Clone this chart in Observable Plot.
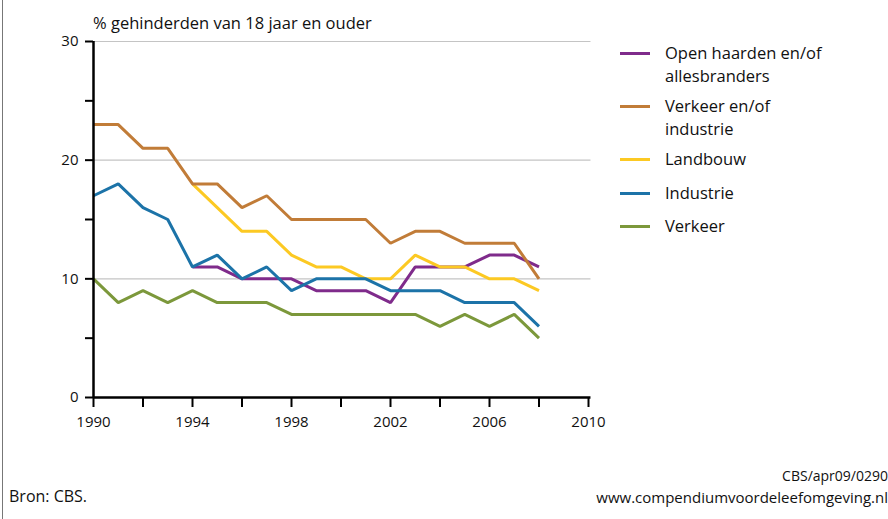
<!DOCTYPE html>
<html>
<head>
<meta charset="utf-8">
<script src="https://cdn.jsdelivr.net/npm/d3@7"></script>
<script src="https://cdn.jsdelivr.net/npm/@observablehq/plot@0.6"></script>
<style>
  body { margin: 0; background: #fff; }
  #wrap { position: relative; width: 888px; height: 519px; font-family: "Open Sans", sans-serif; color: #111; overflow: hidden; }
  #wrap svg { position: absolute; left: 0; top: 0; }
  .abs { position: absolute; white-space: nowrap; }
  #border { position: absolute; left: 2px; top: 0; width: 0; height: 519px; border-left: 1.5px solid #777; }
  #title { left: 93px; top: 11px; font-size: 16.5px; }
  #legend { left: 620px; top: 40px; }
  .lg { position: absolute; left: 0; }
  .sw { position: absolute; left: 0; width: 30px; height: 3px; }
  .lt { position: absolute; left: 45px; font-size: 16.5px; line-height: 23px; white-space: nowrap; }
  .foot { line-height: 17px; }
</style>
</head>
<body>
<div id="wrap">
  <div id="border"></div>
  <div id="title" class="abs">% gehinderden van 18 jaar en ouder</div>
  <div id="legend" class="abs"></div>
  <div class="abs foot" style="left:9px; top:488px; font-size:16px;">Bron: CBS.</div>
  <div class="abs foot" style="right:0px; top:467px; text-align:right; font-size:14px;">CBS/apr09/0290</div>
  <div class="abs foot" style="right:0px; top:489px; text-align:right; font-size:15px;">www.compendiumvoordeleefomgeving.nl</div>
</div>
<script>
const years = [1990,1991,1992,1993,1994,1995,1996,1997,1998,1999,2000,2001,2002,2003,2004,2005,2006,2007,2008];
const openHaarden   = [null,null,null,null,11,11,10,10,10,9,9,9,8,11,11,11,12,12,11];
const verkeerIndust = [23,23,21,21,18,18,16,17,15,15,15,15,13,14,14,13,13,13,10];
const landbouw      = [null,null,null,null,18,16,14,14,12,11,11,10,10,12,11,11,10,10,9];
const industrie     = [17,18,16,15,11,12,10,11,9,10,10,10,9,9,9,8,8,8,6];
const verkeer       = [10,8,9,8,9,8,8,8,7,7,7,7,7,7,6,7,6,7,5];

const seriesNames = ["Open haarden en/of allesbranders","Verkeer en/of industrie","Landbouw","Industrie","Verkeer"];
const legendLines = [["Open haarden en/of","allesbranders"],["Verkeer en/of","industrie"],["Landbouw"],["Industrie"],["Verkeer"]];
const seriesColors = ["#7f2b8b","#c17c38","#fcc923","#1c73a8","#7c983b"];
const seriesValues = [openHaarden, verkeerIndust, landbouw, industrie, verkeer];
const drawOrder = [0,2,1,3,4];

const yTicks = [0,5,10,15,20,25,30];
const yLabels = [0,10,20,30];
const xTicks = [1990,1992,1994,1996,1998,2000,2002,2004,2006,2008,2010];
const xLabels = [1990,1994,1998,2002,2006,2010];

const data = drawOrder.flatMap(i => years.map((yr, j) => ({year: yr, value: seriesValues[i][j], series: seriesNames[i]})).filter(d => d.value != null));

const plot = Plot.plot({
  width: 888,
  height: 519,
  marginLeft: 93,
  marginRight: 300,
  marginTop: 41,
  marginBottom: 122,
  style: {fontFamily: "Open Sans, sans-serif", fontSize: "15px", color: "#111", background: "transparent"},
  x: {domain: [1990, 2010], label: null},
  y: {domain: [0, 30], label: null},
  color: {domain: seriesNames, range: seriesColors},
  marks: [
    Plot.ruleY([10, 20, 30], {stroke: "#c4c4c4", strokeWidth: 1.2, x1: 1990, x2: 2010.1}),
    Plot.axisY({ticks: yTicks, tickSize: 8, tickPadding: 7, strokeWidth: 2, stroke: "#000", tickFormat: d => yLabels.includes(d) ? String(d) : ""}),
    Plot.axisX({ticks: xTicks, tickSize: 10, tickPadding: 9, strokeWidth: 2, stroke: "#000", tickFormat: d => xLabels.includes(d) ? String(d) : ""}),
    Plot.line(data, {x: "year", y: "value", z: "series", stroke: "series", strokeWidth: 3, strokeLinejoin: "miter", strokeLinecap: "butt"}),
    Plot.ruleX([1990], {y1: 0, y2: 30, stroke: "#000", strokeWidth: 2.5}),
    Plot.ruleY([0], {x1: 1990, x2: 2010.1, stroke: "#000", strokeWidth: 2.5})
  ]
});
const wrap = document.getElementById("wrap");
wrap.insertBefore(plot, wrap.firstChild);

// legend
const legendY = [13, 66, 119, 153, 186];
const legend = document.getElementById("legend");
seriesNames.forEach((name, i) => {
  const row = document.createElement("div");
  row.className = "lg";
  row.style.top = legendY[i] + "px";
  const sw = document.createElement("div");
  sw.className = "sw";
  sw.style.background = seriesColors[i];
  sw.style.top = "-1.5px";
  const lt = document.createElement("div");
  lt.className = "lt";
  lt.style.top = "-12px";
  lt.innerHTML = legendLines[i].join("<br>");
  row.appendChild(sw);
  row.appendChild(lt);
  legend.appendChild(row);
});
</script>
</body>
</html>
